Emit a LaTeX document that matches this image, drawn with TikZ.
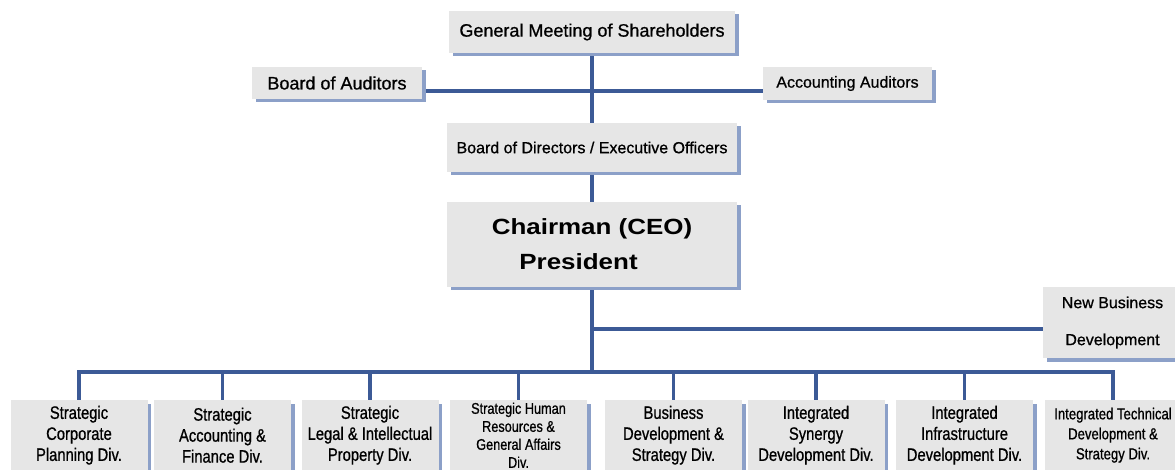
\documentclass[tikz,border=0pt]{standalone}
\usepackage{fontspec}
\setmainfont{Liberation Sans}[FakeBold=0.8]
\newfontfamily\narrowfont{Liberation Sans}[FakeStretch=0.82,FakeBold=0.8]
\newfontfamily\widefont{Liberation Sans}[FakeStretch=1.18]
\usetikzlibrary{shadows,backgrounds}
\definecolor{boxgray}{RGB}{230,230,230}
\definecolor{shadowblue}{RGB}{140,160,200}
\definecolor{lineblue}{RGB}{60,90,150}
\newcommand{\fs}[2]{\fontsize{#1}{#2}\selectfont}
\tikzset{
	orgbox/.style={fill=boxgray,inner sep=0pt,align=center,
		drop shadow={shadow xshift=3.5pt,shadow yshift=-3.5pt,fill=shadowblue,opacity=1}},
	divbox/.style={orgbox,anchor=north,minimum width=137pt,minimum height=70pt,
		font=\narrowfont\fs{18}{21}},
	link/.style={draw=lineblue,line width=3.2pt},
}
\begin{document}
\begin{tikzpicture}[x=1pt,y=-1pt]
	\useasboundingbox (0,0) rectangle (1175,470);
	\clip (0,0) rectangle (1175,470);
	\node[orgbox,minimum width=286pt,minimum height=42pt,font=\fs{18}{21}] (gms) at (592,32) {General Meeting of Shareholders};
	\node[orgbox,minimum width=170pt,minimum height=32pt,font=\fs{18}{21}] (aud) at (337,83) {Board of Auditors};
	\node[orgbox,minimum width=169pt,minimum height=33pt,font=\fs{16}{19}] (acc) at (847.5,83.5) {Accounting Auditors};
	\node[orgbox,minimum width=290pt,minimum height=49pt,font=\fs{16}{19}] (bod) at (592,147.5) {Board of Directors / Executive Officers};
	\node[orgbox,minimum width=290pt,minimum height=85pt,font=\widefont\bfseries\fs{22}{35}] (ceo) at (592,244.5) {Chairman (CEO)\\President\hspace*{27pt}};
	\node[orgbox,minimum width=139pt,minimum height=71pt,font=\fs{16}{37}] (nbd) at (1112.5,322.5) {New Business\\Development};
	
	\node[divbox] (d1) at (79,400) {Strategic\\Corporate\\Planning Div.};
	\node[divbox] (d2) at (222.5,400) {Strategic\\Accounting \&\\Finance Div.};
	\node[divbox] (d3) at (370,400) {Strategic\\Legal \& Intellectual\\Property Div.};
	\node[divbox,font=\narrowfont\fs{15.5}{18}] (d4) at (518.5,400) {Strategic Human\\Resources \&\\General Affairs\\Div.};
	\node[divbox] (d5) at (673.5,400) {Business\\Development \&\\Strategy Div.};
	\node[divbox] (d6) at (816,400) {Integrated\\Synergy\\Development Div.};
	\node[divbox] (d7) at (964.5,400) {Integrated\\Infrastructure\\Development Div.};
	\node[divbox,font=\narrowfont\fs{16}{20}] (d8) at (1113,400) {Integrated Technical\\Development \&\\Strategy Div.};
	
	\begin{scope}[on background layer]
		\coordinate (audline) at (592,91);
		\coordinate (nbline) at (592,329);
		\coordinate (bus) at (592,372);
		\draw[link] (gms.south) -- (bod.north);
		\draw[link] (aud.east |- audline) -- (acc.west |- audline);
		\draw[link] (bod.south) -- (ceo.north);
		\draw[link] (nbline) -- (nbd.west |- nbline);
		\draw[link] (ceo.south) -- (bus);
		\draw[link] (d1.north) |- (bus) -| (d8.north);
		\foreach \i in {2,...,7}
			\draw[link] (d\i.north) -- (d\i.north |- bus);
	\end{scope}
\end{tikzpicture}
\end{document}
